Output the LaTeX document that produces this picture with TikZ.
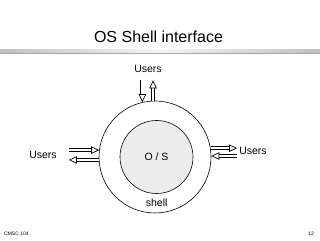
\documentclass[tikz,border=0pt]{standalone}
\usepackage{fontspec}
\setmainfont{Liberation Sans}
\usetikzlibrary{arrows.meta, positioning}
\tikzstyle{usertext} = [font=\fontsize{10.5}{12}\selectfont, anchor=base, inner sep=0pt]
\tikzstyle{ring} = [circle, draw=black, line width=0.6pt, minimum size=112pt, inner sep=0pt]
\tikzstyle{core} = [circle, draw=black, line width=0.6pt, fill=gray!15, minimum size=73pt, inner sep=0pt, font=\fontsize{10.5}{12}\selectfont]
\tikzstyle{hollow} = [double, double distance=2.4pt, line width=0.7pt, -{Triangle[open, length=8pt, width=7.5pt, line width=0.7pt]}]

\begin{document}
\begin{tikzpicture}[x=1pt, y=1pt]
\useasboundingbox (0,0) rectangle (320,240);

% title and bar
\node (title) [anchor=base, inner sep=0pt, font=\fontsize{16}{18}\selectfont] at (158.5,197) {OS Shell interface};
\shade [left color=gray!50, right color=gray!50, middle color=gray!8] (0,187) rectangle (320,190);
\draw [gray!70, line width=1pt] (0,186) -- (320,186);

% shell and kernel
\node (shell) [ring] at (155,83) {};
\node (os) [core] at (156.5,83) {O / S};
\node (shell_text) [usertext] at (156.7,33.3) {shell};

% users
\node (users_top) [usertext] at (148,167) {Users};
\node (users_left) [usertext] at (43,81.7) {Users};
\node (users_right) [usertext] at (253,85) {Users};

\path (users_top.south) ++(0,-7) coordinate (top_gap);
\coordinate (left_end) at ([xshift=12pt]users_left.east);
\coordinate (right_end) at ([xshift=-2pt]users_right.west);

\draw [hollow] (shell.103 |- top_gap) -- (shell.103);
\draw [hollow] (shell.92.5) -- (shell.92.5 |- top_gap);
\draw [hollow] (left_end |- shell.173.5) -- (shell.173.5);
\draw [hollow] (shell.183.1) -- (left_end |- shell.183.1);
\draw [hollow] (shell.9.8) -- (right_end |- shell.9.8);
\draw [hollow] (right_end |- shell.1) -- (shell.1);

% footer
\node (course) [anchor=base west, inner sep=0pt, font=\fontsize{5}{6}\selectfont] at (4,5) {CMSC 104};
\node (page) [anchor=base, inner sep=0pt, font=\fontsize{5}{6}\selectfont] at (311,5) {12};

\end{tikzpicture}
\end{document}
